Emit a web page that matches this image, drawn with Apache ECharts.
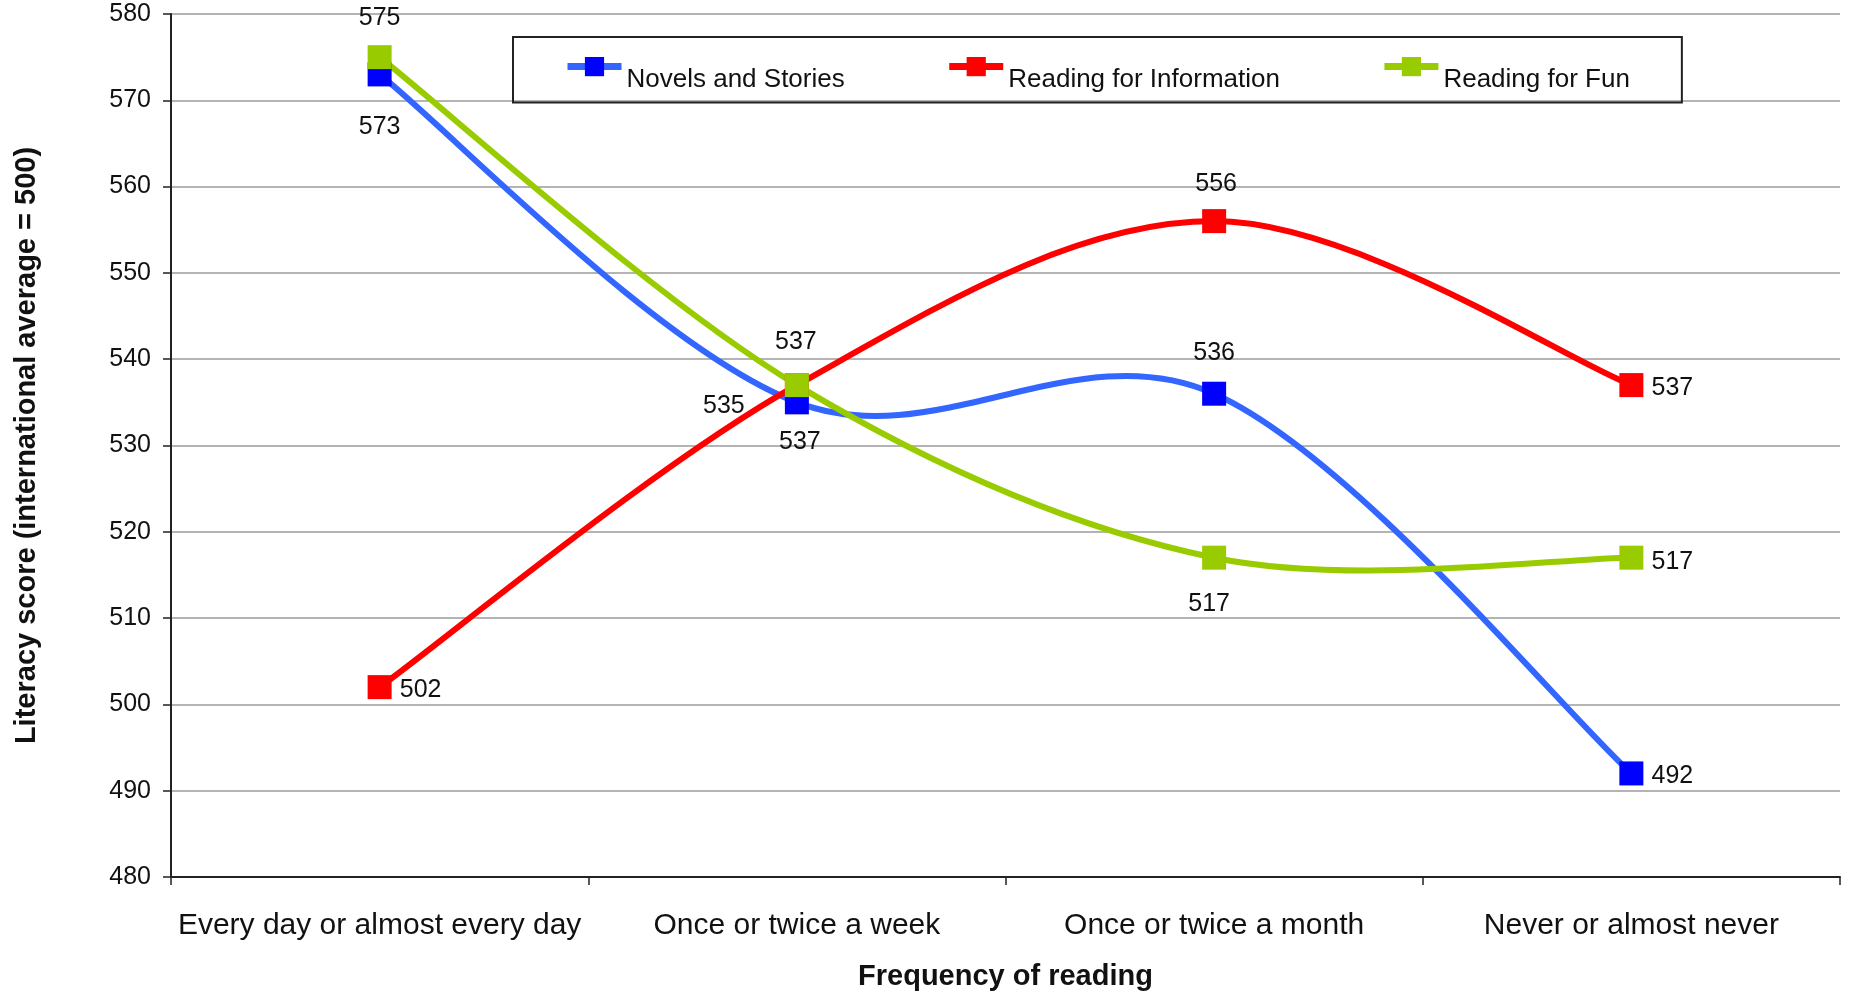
<!DOCTYPE html>
<html>
<head>
<meta charset="utf-8">
<script src="https://cdn.jsdelivr.net/npm/echarts@6/dist/echarts.min.js"></script>
<style>
html,body{margin:0;padding:0;background:#fff;}
#chart{width:1850px;height:991px;}
</style>
</head>
<body>
<div id="chart"></div>
<script>
// ---- data ----
var categories = ['Every day or almost every day', 'Once or twice a week', 'Once or twice a month', 'Never or almost never'];
var seriesNames = ['Novels and Stories', 'Reading for Information', 'Reading for Fun'];
var novels = [573, 535, 536, 492];
var information = [502, 537, 556, 537];
var fun = [575, 537, 517, 517];
var yTicks = {min: 480, max: 580, interval: 10};

// ---- styles (label offsets relative to each marker) ----
var novelsLabelOffsets = [[0, 53], [-73, 4], [0, -41], [41, 3]];
var infoLabelOffsets = [[41, 3], [3, 57], [2, -37], [41, 3]];
var funLabelOffsets = [[0, -39], [-1, -43], [-5, 46], [41, 4]];

var FONT = '"Liberation Sans", Arial, sans-serif';

function buildData(values, offsets) {
  return values.map(function (v, i) {
    return {value: v, label: {offset: offsets[i]}};
  });
}

// Smoothed curve (Catmull-Rom style, as in spreadsheet charts) drawn
// through the points obtained from the chart's own scales (api.coord).
function makeCurve(name, values, color) {
  return {
    name: name + ' (curve)',
    type: 'custom',
    silent: true,
    data: values.map(function (v, i) { return [i, v]; }),
    encode: {x: 0, y: 1},
    renderItem: function (params, api) {
      if (params.dataIndex !== 0) { return null; }
      var p = values.map(function (v, i) { return api.coord([i, v]); });
      var n = p.length;
      var d = 'M' + p[0][0] + ',' + p[0][1];
      for (var i = 0; i < n - 1; i++) {
        var a = p[Math.max(i - 1, 0)], b = p[i], c = p[i + 1], e = p[Math.min(i + 2, n - 1)];
        var c1x = b[0] + (c[0] - a[0]) / 6, c1y = b[1] + (c[1] - a[1]) / 6;
        var c2x = c[0] - (e[0] - b[0]) / 6, c2y = c[1] - (e[1] - b[1]) / 6;
        d += ' C' + c1x + ',' + c1y + ' ' + c2x + ',' + c2y + ' ' + c[0] + ',' + c[1];
      }
      return {
        type: 'path',
        shape: {pathData: d},
        style: {fill: 'none', stroke: color, lineWidth: 6, lineJoin: 'round', lineCap: 'round'}
      };
    }
  };
}

function makeMarkers(name, values, offsets, lineColor, markerColor) {
  return {
    name: name,
    type: 'line',
    symbol: 'rect',
    symbolSize: 24,
    data: buildData(values, offsets),
    lineStyle: {color: lineColor, width: 6, opacity: 0},
    itemStyle: {color: markerColor},
    label: {
      show: true,
      position: 'inside',
      color: '#111',
      fontFamily: FONT,
      fontSize: 25
    },
    emphasis: {disabled: true}
  };
}

var chart = echarts.init(document.getElementById('chart'), null, {renderer: 'canvas'});
chart.setOption({
  backgroundColor: '#fff',
  animation: false,
  grid: {left: 171, right: 10, top: 14, bottom: 114, containLabel: false, outerBoundsMode: 'none'},
  legend: {
    left: 513,
    top: 37,
    padding: [20, 52, 10, 51],
    borderColor: '#222',
    borderWidth: 2,
    itemWidth: 54,
    itemHeight: 24,
    itemGap: 101,
    data: seriesNames,
    lineStyle: {width: 7, opacity: 1},
    formatter: '{t|{name}}',
    textStyle: {
      fontFamily: FONT, fontSize: 26, color: '#111',
      rich: {t: {fontFamily: FONT, fontSize: 26, color: '#111', padding: [26, 0, 0, 0]}}
    }
  },
  xAxis: {
    type: 'category',
    data: categories,
    boundaryGap: true,
    name: 'Frequency of reading',
    nameLocation: 'middle',
    nameGap: 85,
    nameTextStyle: {fontFamily: FONT, fontSize: 29, fontWeight: 'bold', color: '#111'},
    axisLine: {lineStyle: {color: '#222', width: 2}},
    axisTick: {show: true, interval: 0, alignWithLabel: false, length: 8, lineStyle: {color: '#222', width: 1.5}},
    axisLabel: {interval: 0, fontFamily: FONT, fontSize: 30, color: '#111', margin: 34},
    splitLine: {show: false}
  },
  yAxis: {
    type: 'value',
    min: yTicks.min,
    max: yTicks.max,
    interval: yTicks.interval,
    name: 'Literacy score (international average = 500)',
    nameLocation: 'middle',
    nameGap: 130,
    nameTextStyle: {fontFamily: FONT, fontSize: 29, fontWeight: 'bold', color: '#111'},
    axisLine: {show: true, lineStyle: {color: '#222', width: 2}},
    axisTick: {show: true, length: 8, lineStyle: {color: '#222', width: 1.5}},
    axisLabel: {fontFamily: FONT, fontSize: 25, color: '#111', margin: 20},
    splitLine: {show: true, lineStyle: {color: '#b4b4b4', width: 2}}
  },
  series: [
    makeCurve(seriesNames[0], novels, '#3366ff'),
    makeMarkers(seriesNames[0], novels, novelsLabelOffsets, '#3366ff', '#0000ff'),
    makeCurve(seriesNames[1], information, '#ff0000'),
    makeMarkers(seriesNames[1], information, infoLabelOffsets, '#ff0000', '#ff0000'),
    makeCurve(seriesNames[2], fun, '#99cc00'),
    makeMarkers(seriesNames[2], fun, funLabelOffsets, '#99cc00', '#99cc00')
  ]
});
</script>
</body>
</html>
